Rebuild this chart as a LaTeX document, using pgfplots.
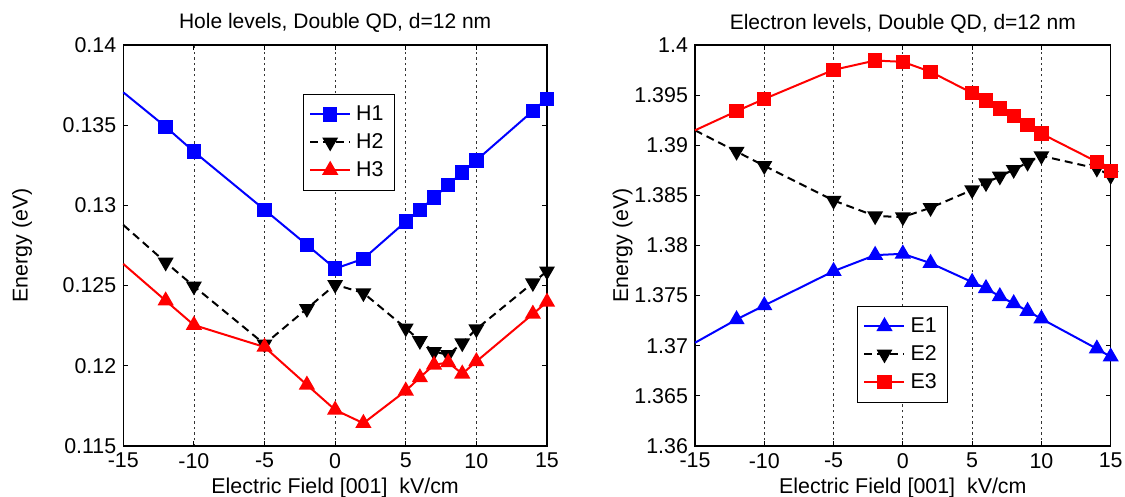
\documentclass[border=0pt]{standalone}
\usepackage{fontspec}
\setmainfont{Liberation Sans}
\usepackage{pgfplots}
\pgfplotsset{compat=1.18}

\definecolor{mblue}{RGB}{0,0,255}
\definecolor{mred}{RGB}{255,0,0}

\pgfplotsset{
  qd/.style={
    scale only axis, height=200.5pt,
    xmin=-15, xmax=15,
    xtick={-15,-10,-5,0,5,10,15},
    xticklabels={-15,-10,-5,0,5,10,15},
    tick align=inside, major tick length=2.5pt,
    xmajorgrids,
    grid style={black!80, line width=0.4pt, dash pattern=on 1.2pt off 1.6pt},
    axis line style={line width=0.6pt},
    tick style={black, line width=0.5pt},
    ticklabel style={font=\fontsize{10.7}{12}\selectfont},
    label style={font=\fontsize{10.7}{12}\selectfont},
    every axis title shift=0pt,
    title style={at={(axis description cs:0.5,1)}, anchor=base, yshift=8pt},
    xlabel={Electric Field [001]\ \ kV/cm},
    ylabel={Energy (eV)},
    xlabel style={at={(axis description cs:0.5,0)}, anchor=base, yshift=-24pt},
    clip=false,
    legend cell align=left,
    legend style={draw=black, line width=0.5pt, fill=white, anchor=north west,
      font=\fontsize{10.7}{12}\selectfont, inner sep=3pt, nodes={inner sep=2.5pt}},
    legend image code/.code={%
      \draw[#1, mark indices={2}] plot coordinates {(0pt,0pt) (10pt,0pt) (20pt,0pt)};},
  },
  sq/.style={mblue, line width=1pt, mark=square*, mark size=3.1pt, mark indices={2,...,15}},
  dn/.style={black, line width=1pt, dash pattern=on 4pt off 2.5pt, mark=triangle*,
    mark options={solid, rotate=180}, mark size=3.6pt, mark indices={2,...,15}},
  up/.style={mred, line width=1pt, mark=triangle*, mark size=3.7pt, mark indices={2,...,15}},
}

\begin{document}
\begin{tikzpicture}
\begin{axis}[qd, width=211.85pt, at={(61.65pt,25.5pt)}, anchor=south west,
  ymin=0.115, ymax=0.14,
  ytick={0.115,0.12,0.125,0.13,0.135,0.14},
  yticklabels={0.115,0.12,0.125,0.13,0.135,0.14},
  ylabel style={at={(axis description cs:-0.239,0.5)}, anchor=center},
  title={\fontsize{10.5}{12}\selectfont Hole levels, Double QD, d=12 nm},
  legend style={at={(axis description cs:0.4234,0.8778)}},
]
\addplot[sq] coordinates {(-15,0.13705) (-12,0.1349) (-10,0.13335) (-5,0.12973) (-2,0.12754) (0,0.12606) (2,0.12667) (5,0.12899) (6,0.12973) (7,0.13048) (8,0.13128) (9,0.13205) (10,0.13281) (14,0.13589) (15,0.13665)};
\addplot[dn] coordinates {(-15,0.12878) (-12,0.12645) (-10,0.12496) (-5,0.12135) (-2,0.12356) (0,0.12506) (2,0.12454) (5,0.12235) (6,0.12156) (7,0.12088) (8,0.12069) (9,0.12142) (10,0.12229) (14,0.12517) (15,0.1259)};
\addplot[up] coordinates {(-15,0.12635) (-12,0.12406) (-10,0.12254) (-5,0.12117) (-2,0.11881) (0,0.11725) (2,0.11642) (5,0.11844) (6,0.11927) (7,0.12006) (8,0.12021) (9,0.1195) (10,0.12027) (14,0.12323) (15,0.12398)};
\legend{H1,H2,H3}
\end{axis}

\begin{axis}[qd, width=207.85pt, at={(347.5pt,25.5pt)}, anchor=south west,
  ymin=1.36, ymax=1.4,
  ytick={1.36,1.365,1.37,1.375,1.38,1.385,1.39,1.395,1.4},
  yticklabels={1.36,1.365,1.37,1.375,1.38,1.385,1.39,1.395,1.4},
  ylabel style={at={(axis description cs:-0.174,0.5)}, anchor=center},
  title={\fontsize{10.5}{12}\selectfont Electron levels, Double QD, d=12 nm},
  legend style={at={(axis description cs:0.3897,0.3491)}},
]
\addplot[up, mblue] coordinates {(-15,1.3703) (-12,1.37262) (-10,1.37402) (-5,1.37744) (-2,1.37904) (0,1.37917) (2,1.37824) (5,1.37635) (6,1.37573) (7,1.37492) (8,1.37422) (9,1.37346) (10,1.37269) (14,1.3697) (15,1.3689)};
\addplot[dn] coordinates {(-15,1.39149) (-12,1.38937) (-10,1.38795) (-5,1.38449) (-2,1.38294) (0,1.38284) (2,1.38376) (5,1.38554) (6,1.38624) (7,1.3869) (8,1.38756) (9,1.38828) (10,1.38894) (14,1.38769) (15,1.38696)};
\addplot[sq, mred] coordinates {(-15,1.39149) (-12,1.3934) (-10,1.39462) (-5,1.39752) (-2,1.39845) (0,1.39832) (2,1.39733) (5,1.39521) (6,1.39446) (7,1.39366) (8,1.3929) (9,1.39201) (10,1.39116) (14,1.38835) (15,1.38746)};
\legend{E1,E2,E3}
\end{axis}
\pgfresetboundingbox
\path (0,0) rectangle (562.5pt,248.5pt);
\end{tikzpicture}
\end{document}
